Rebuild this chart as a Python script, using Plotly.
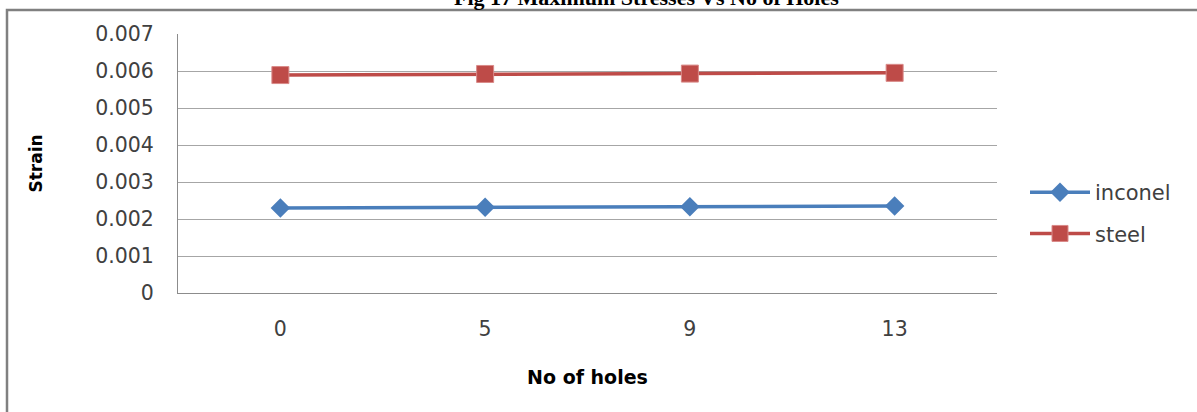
import plotly.graph_objects as go

holes = ["0", "5", "9", "13"]
inconel = [0.00230, 0.00232, 0.00233, 0.00235]
steel = [0.00589, 0.00592, 0.00593, 0.00595]
y_ticks = [0, 0.001, 0.002, 0.003, 0.004, 0.005, 0.006, 0.007]
y_tick_text = ["0", "0.001", "0.002", "0.003", "0.004", "0.005", "0.006", "0.007"]

W, H = 1197, 412
L, R, T, B = 178, 997, 34, 293  # plot area in pixels


def px(x):
    return (x - L) / (R - L)


def py(y):
    return (B - y) / (B - T)


FONT = "DejaVu Sans, sans-serif"

fig = go.Figure()
fig.add_trace(go.Scatter(
    x=holes, y=inconel, name="inconel", mode="lines+markers",
    line=dict(color="#4a7ebb", width=3.5),
    marker=dict(symbol="diamond", size=15, color="#4a7ebb"),
    legendgroup="a",
))
fig.add_trace(go.Scatter(
    x=holes, y=steel, name="steel", mode="lines+markers",
    line=dict(color="#be4b48", width=3.5),
    marker=dict(symbol="square", size=17, color="#be4b48",
                line=dict(color="#d98a88", width=1)),
    legendgroup="b",
))

fig.update_layout(
    width=W, height=H,
    margin=dict(l=L, r=W - R, t=T, b=H - B),
    paper_bgcolor="white", plot_bgcolor="white",
    font=dict(family=FONT, size=20, color="#404040"),
    showlegend=True,
    legend=dict(
        x=px(1025), y=py(172), xanchor="left", yanchor="top",
        font=dict(family=FONT, size=21, color="#404040"),
        itemwidth=60, tracegroupgap=11, bgcolor="rgba(0,0,0,0)",
    ),
    xaxis=dict(
        type="category", range=[-0.5, 3.5],
        showgrid=False, showline=True, linecolor="#8c8c8c", linewidth=1,
        ticks="", tickfont=dict(family=FONT, size=20.5, color="#404040"),
        ticklabelstandoff=17,
        title=dict(text="<b>No of holes</b>",
                   font=dict(family=FONT, size=19, color="#000000"),
                   standoff=31),
    ),
    yaxis=dict(
        range=[0, 0.007], tickvals=y_ticks, ticktext=y_tick_text,
        showgrid=True, gridcolor="#a6a6a6", gridwidth=1,
        showline=True, linecolor="#8c8c8c", linewidth=1,
        zeroline=False, ticks="",
        tickfont=dict(family=FONT, size=20.5, color="#404040"),
        ticklabelstandoff=19,
        title=dict(text="<b>Strain</b>",
                   font=dict(family=FONT, size=17, color="#000000"),
                   standoff=48),
    ),
)

# outer frame of the figure panel
fig.add_shape(type="path", xref="paper", yref="paper",
              path=f"M {px(7)},{py(H + 20)} L {px(7)},{py(10)} L {px(W + 20)},{py(10)}",
              line=dict(color="#808080", width=2.5))

# figure caption along the top edge
fig.add_annotation(
    text="<b>Fig 17 Maximum Stresses Vs No of Holes</b>",
    xref="paper", yref="paper", x=px(646), y=py(-3),
    xanchor="center", yanchor="middle", showarrow=False,
    font=dict(family="Liberation Serif, Times New Roman, serif", size=22, color="#000000"),
)

fig.write_html("out.html")
